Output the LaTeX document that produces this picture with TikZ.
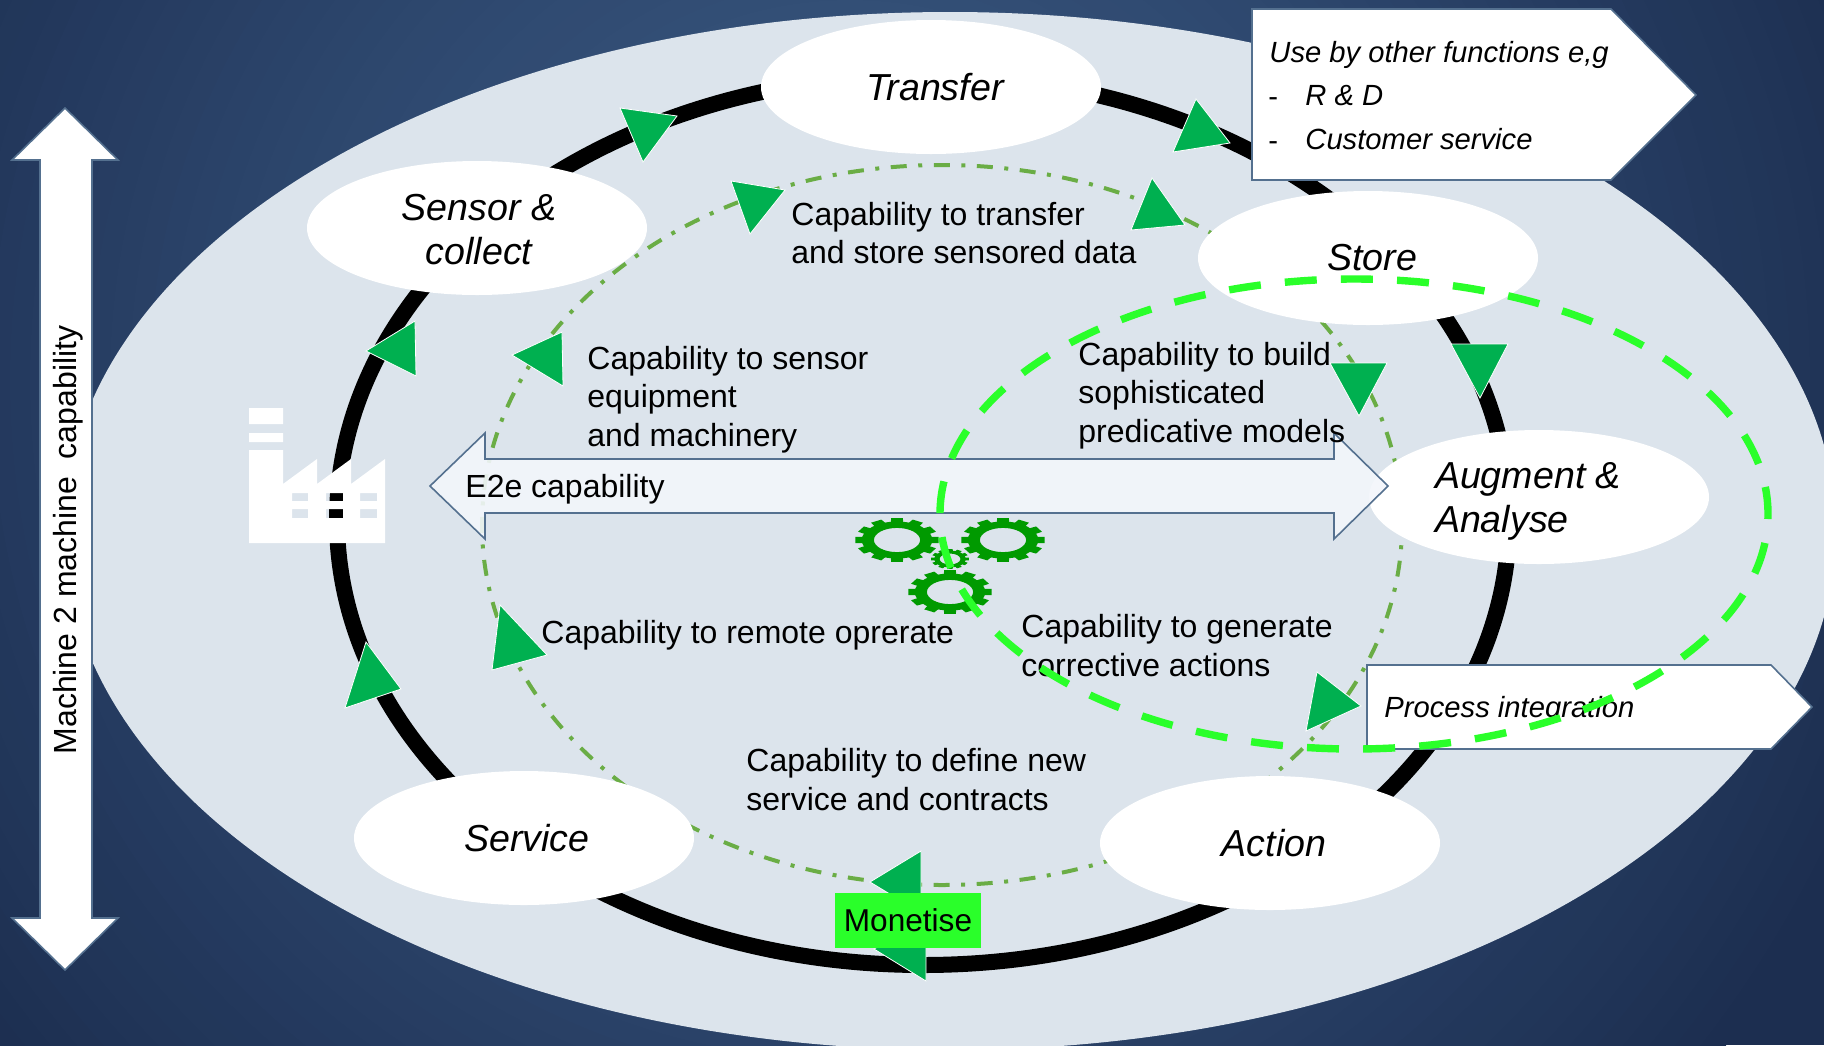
\documentclass[tikz,border=0pt]{standalone}
\usepackage{fontspec}
\setmainfont{Liberation Sans}
\usetikzlibrary{shapes.geometric}
\definecolor{bgdark}{HTML}{1C2E50}
\definecolor{bgmid}{HTML}{2E486F}
\definecolor{bglight}{HTML}{3E5D84}
\definecolor{pale}{HTML}{DCE4EC}
\definecolor{tri}{HTML}{00B050}
\definecolor{dashdot}{HTML}{6AAD45}
\definecolor{lime}{HTML}{2AFF2A}
\definecolor{gearc}{HTML}{009A00}
\definecolor{edgeblue}{HTML}{54708F}
\definecolor{arrowfill}{HTML}{F3F6FB}
\tikzset{
  stage/.style={shape=ellipse,fill=white,draw=none,minimum width=170pt,minimum height=67pt,inner sep=0pt,align=center,font=\fontsize{18.8}{22}\selectfont\itshape},
  body/.style={anchor=west,inner sep=0pt,align=left,font=\fontsize{16}{19.25}\selectfont,text=black},
  calltext/.style={anchor=west,inner sep=0pt,align=left,font=\fontsize{14.6}{18}\selectfont\itshape,text=black},
  tribox/.style={fill=tri,draw=white,line width=.4pt,line join=miter},
  callout/.style={fill=white,draw=edgeblue,line width=.8pt,line join=miter},
}
\newcommand{\gearshape}[5]{%
  \begin{scope}[shift={(#1,#2)},x=#3*0.5pt,y=#4*0.5pt]
    \fill[gearc,even odd rule] (0,0) circle (.84) (0,0) circle (#5);
    \foreach \a in {0,30,...,330}{
      \fill[gearc] (\a-11:.78) -- (\a-8:1) -- (\a+8:1) -- (\a+11:.78) -- cycle;
    }
  \end{scope}}
\begin{document}
\begin{tikzpicture}[x=0.5pt,y=-0.5pt]
\useasboundingbox (0,0) rectangle (1824,1045);
\begin{scope}
\clip (0,0) rectangle (1824,1045);
\fill[bgdark] (0,0) rectangle (1824,1045);
% background glow as concentric discs
\foreach \r in {1100,1080,...,560}{
  \pgfmathsetmacro{\p}{(1100-\r)/5.5}
  \fill[bgmid!\p!bgdark] (850,380) circle (\r);
}
\foreach \r in {540,520,...,20}{
  \pgfmathsetmacro{\p}{(550-\r)/5.5}
  \fill[bglight!\p!bgmid] (850,380) circle (\r);
}
% big pale ellipse
\fill[pale] (950,531) ellipse [x radius=886,y radius=519];
% rings
\draw[black,line width=8pt] (923,520) ellipse [x radius=586,y radius=445];
\draw[dashdot,line width=2pt,dash pattern=on 8pt off 5.77pt on 2pt off 5.77pt,dash phase=3.65pt] (942,525) ellipse [x radius=460,y radius=360];
% factory, windows are holes
\fill[white,even odd rule]
  (249,408) rectangle (283,424)
  (249,433) rectangle (283,442)
  (249,450) -- (283,450) -- (283,484) -- (317,459) -- (317,484) -- (351,459) -- (351,484) -- (385,459) -- (385,543) -- (249,543) -- cycle
  (292,493) rectangle (308,501) (326,493) rectangle (343,501) (360,493) rectangle (377,501)
  (292,509) rectangle (308,518) (326,509) rectangle (343,518) (360,509) rectangle (377,518);
\end{scope}
% left vertical arrow
\draw[fill=white,draw=edgeblue,line width=.8pt,line join=miter] (65,108) -- (118,160) -- (92,160) -- (92,918) -- (118,918) -- (65,970) -- (12,918) -- (40,918) -- (40,160) -- (12,160) -- cycle;
\node[rotate=90,inner sep=0pt,font=\fontsize{16}{19}\selectfont,text=black] (m2m) at (68,540) {Machine 2 machine \ capability};
% stages
\node[stage] (transfer) at (931,87) {\hspace*{4pt}Transfer};
\node[stage] (sensor) at (477,228) {\rule{0pt}{14.7pt}\hspace*{2pt}Sensor \&\\\hspace*{2pt}collect};
\node[stage] (store) at (1368,258) {\hspace*{4pt}Store};
\node[stage,align=left] (augment) at (1539,497) {\rule{0pt}{17.6pt}Augment \&\hspace*{11pt}\\Analyse};
\node[stage] (action) at (1270,843) {\hspace*{4pt}Action};
\node[stage] (service) at (524,838) {\hspace*{3pt}Service};
% E2e arrow
\draw[fill=arrowfill,fill opacity=.9,draw=edgeblue,line width=.8pt,line join=miter]
 (430,486) -- (485,433) -- (485,459) -- (1334,459) -- (1334,433) -- (1388,486) -- (1334,539) -- (1334,513) -- (485,513) -- (485,539) -- cycle;
% triangles on outer ring
\path[tribox] (620,108) -- (677,116) -- (643,162) -- cycle;
\path[tribox] (1196,99) -- (1230,143) -- (1173,152) -- cycle;
\path[tribox] (1451,344) -- (1508,344) -- (1480,398) -- cycle;
\path[tribox] (926,919) -- (926,981) -- (874,949) -- cycle;
\path[tribox] (366,642) -- (401,689) -- (345,708) -- cycle;
\path[tribox] (415,321) -- (416,376) -- (366,351) -- cycle;
% triangles on inner ring
\path[tribox] (731,181) -- (785,190) -- (750,234) -- cycle;
\path[tribox] (1152,178) -- (1185,225) -- (1131,230) -- cycle;
\path[tribox] (1330,363) -- (1387,363) -- (1359,416) -- cycle;
\path[tribox] (1317,672) -- (1361,706) -- (1306,731) -- cycle;
\path[tribox] (921,851) -- (921,913) -- (870,882) -- cycle;
\path[tribox] (500,605) -- (547,655) -- (492,670) -- cycle;
\path[tribox] (512,355) -- (562,332) -- (563,386) -- cycle;
% gears
\gearshape{897}{540}{42}{22}{.55}
\gearshape{1003}{540}{42}{22}{.55}
\gearshape{950}{592}{42}{22}{.55}
\gearshape{950}{559}{19}{10}{.55}
% labels
\node[body] (l1) at (791,233) {Capability to transfer\\and store sensored data};
\node[body] (l2) at (587,399.5) {Capability to sensor\\equipment\\and machinery};
\node[body] (l3) at (1078,395.5) {Capability to build\\sophisticated\\predicative models};
\node[body] (l4) at (465,489) {E2e capability};
\node[body] (l5) at (541,635) {Capability to remote oprerate};
\node[body] (l6) at (1021,645.5) {Capability to generate\\corrective actions};
\node[body] (l7) at (746,779.5) {Capability to define new\\service and contracts};
% callouts
\path[callout] (1252,9) -- (1611,9) -- (1696,95) -- (1611,180) -- (1252,180) -- cycle;
\node[calltext] (c1) at (1269,55) {Use by other functions e,g};
\node[calltext] (c2) at (1268,99) {\upshape-\vphantom{Rg}};
\node[calltext] (c3) at (1305,96) {R \& D};
\node[calltext] (c4) at (1268,143) {\upshape-\vphantom{Rg}};
\node[calltext] (c5) at (1305,139.5) {Customer service};
\path[callout] (1367,665) -- (1771,665) -- (1812,707) -- (1771,749) -- (1367,749) -- cycle;
\node[calltext] (c6) at (1384,710) {Process integration};
% monetise
\node[fill=lime,minimum width=73pt,minimum height=27.5pt,inner sep=0pt,font=\fontsize{15.8}{19}\selectfont,text=black] (money) at (908,920.5) {Monetise};
% dashed ring
\draw[lime,line width=3.7pt,dash pattern=on 16pt off 12.08pt,dash phase=13.5pt] (1354,514) ellipse [x radius=414,y radius=235];
\end{tikzpicture}
\end{document}
